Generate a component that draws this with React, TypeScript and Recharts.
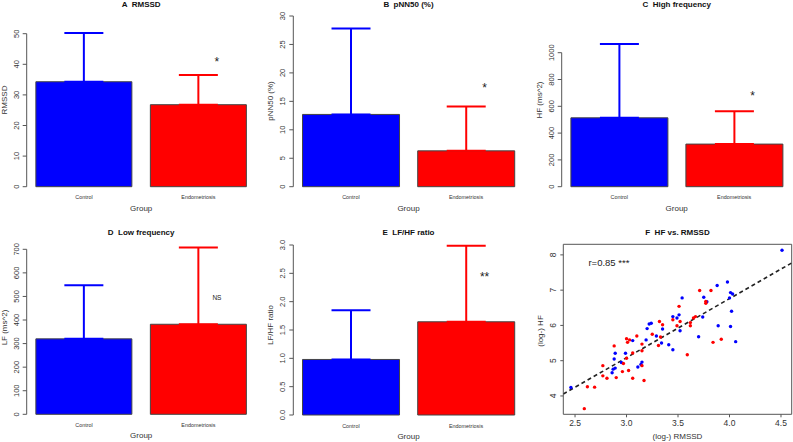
import React from 'react';
import {
  ComposedChart,
  ScatterChart,
  Bar,
  ErrorBar,
  Scatter,
  XAxis,
  YAxis,
  ReferenceDot,
  ReferenceLine,
  ReferenceArea,
} from 'recharts';

const FONT = '"Liberation Sans", Arial, Helvetica, sans-serif';
const BLUE = '#0000FF';
const RED = '#FF0000';
const AX = '#555555';
const TXT = '#333333';
const H = 221;

// groups and means / sd per panel
const groups = ['Control', 'Endometriosis'];

const rmssdMean = [34.3, 26.8];
const rmssdSd = [15.9, 9.7];
const rmssdTicks = [0, 10, 20, 30, 40, 50];

const pnn50Mean = [12.7, 6.3];
const pnn50Sd = [15.1, 7.8];
const pnn50Ticks = [0, 5, 10, 15, 20, 25, 30];

const hfMean = [514, 318];
const hfSd = [550, 245];
const hfTicks = [0, 200, 400, 600, 800, 1000];

const lfMean = [320, 382];
const lfSd = [227, 326];
const lfTicks = [0, 100, 200, 300, 400, 500, 600, 700];

const ratioMean = [0.98, 1.645];
const ratioSd = [0.87, 1.34];
const ratioTicks = [0, 0.5, 1, 1.5, 2, 2.5, 3];

// log HF vs log RMSSD
const controlX = [4.51, 2.46, 3.98, 3.88, 3.54, 3.75, 3.78, 4.01, 4.03, 4.0, 4.02, 3.74, 3.89, 4.01, 4.06, 3.7, 3.51, 3.45, 3.49, 3.52, 3.45, 3.41, 3.35, 3.34, 3.29, 3.24, 3.22, 3.2, 3.19, 3.06, 3.15, 3.14, 3.11, 2.99, 2.95, 2.89, 2.88, 2.89, 2.87, 2.86];
const controlY = [8.13, 4.24, 7.23, 7.13, 6.78, 6.8, 6.67, 6.93, 6.89, 6.78, 6.4, 6.24, 5.99, 5.97, 5.54, 5.68, 6.3, 6.25, 6.21, 5.85, 5.31, 5.45, 5.9, 5.5, 5.7, 6.06, 6.04, 5.91, 5.59, 5.57, 4.96, 4.89, 4.82, 5.21, 4.95, 5.21, 5.05, 4.79, 4.76, 4.66];
const endoX = [3.71, 3.82, 3.77, 3.77, 3.51, 3.45, 3.52, 3.62, 3.65, 3.67, 3.62, 3.49, 3.32, 3.35, 3.33, 3.31, 3.25, 3.59, 3.84, 3.92, 3.1, 3.03, 3.01, 3.0, 2.88, 3.15, 3.15, 3.06, 3.15, 3.0, 2.97, 2.77, 3.02, 2.96, 2.9, 2.81, 2.77, 3.06, 3.17, 2.62, 2.69, 2.59];
const endoY = [6.99, 6.99, 6.68, 6.63, 6.54, 6.16, 6.11, 6.08, 6.21, 6.25, 5.99, 5.99, 6.11, 6.02, 5.67, 5.43, 5.75, 5.17, 5.52, 5.61, 5.7, 5.59, 5.52, 5.62, 5.42, 5.47, 5.28, 5.22, 4.86, 5.07, 4.92, 4.86, 4.72, 4.69, 4.52, 4.5, 4.57, 4.5, 4.44, 4.26, 4.25, 3.64];
const fitIntercept = 0.06;
const fitSlope = 1.675;
const scatterXTicks = [2.5, 3, 3.5, 4, 4.5];
const scatterYTicks = [4, 5, 6, 7, 8];

interface BarPanelProps {
  left: number;
  top: number;
  width: number;
  title: string;
  titleY: number;
  yLabel: string;
  yLabelY: number;
  mean: number[];
  sd: number[];
  ticks: number[];
  decimals: number;
  mark: string;
  markY: number;
  markSize: number;
  markLift: number;
  plotLeft: number;
  plotRight: number;
  y0: number;
  ppu: number;
}

const BarPanel: React.FC<BarPanelProps> = (p) => {
  const data = groups.map((g, i) => ({
    group: g,
    ctrl: i === 0 ? p.mean[i] : null,
    endo: i === 1 ? p.mean[i] : null,
    ctrlErr: i === 0 ? [0, p.sd[i]] : null,
    endoErr: i === 1 ? [0, p.sd[i]] : null,
  }));
  const topTick = p.ticks[p.ticks.length - 1];
  const domMax = Math.max(topTick, ...p.mean.map((m, i) => m + p.sd[i]));
  const YW = 20;
  const XH = 20;
  const margin = {
    top: p.y0 - domMax * p.ppu,
    bottom: H - p.y0 - XH,
    left: p.plotLeft - YW,
    right: p.width - p.plotRight,
  };
  const cx = (p.plotLeft + p.plotRight) / 2;

  const yTick = (props: any) => {
    const { y, payload } = props;
    const ax = p.plotLeft;
    const lx = ax - 10.5;
    return (
      <g>
        <line x1={ax - 4} x2={ax} y1={y} y2={y} stroke={AX} />
        {payload.value === topTick && (
          <line x1={ax} x2={ax} y1={y} y2={y + topTick * p.ppu} stroke={AX} />
        )}
        <text
          x={lx}
          y={y}
          transform={`rotate(-90 ${lx} ${y})`}
          textAnchor='middle'
          dominantBaseline='central'
          fontSize={7.5}
          fontFamily={FONT}
          fill={TXT}
        >
          {payload.value.toFixed(p.decimals)}
        </text>
      </g>
    );
  };

  const xTick = (props: any) => (
    <text
      x={props.x}
      y={p.y0 + 10.5}
      textAnchor='middle'
      dominantBaseline='central'
      fontSize={5.4}
      fontFamily={FONT}
      fill={TXT}
    >
      {props.payload.value}
    </text>
  );

  return (
    <div style={{ position: 'absolute', left: p.left, top: p.top, width: p.width, height: H }}>
      <div
        style={{
          position: 'absolute',
          left: cx,
          top: p.titleY,
          transform: 'translate(-50%, -50%)',
          fontFamily: FONT,
          fontWeight: 'bold',
          fontSize: 8,
          lineHeight: 1,
          whiteSpace: 'pre',
          color: '#111',
        }}
      >
        {p.title}
      </div>
      <ComposedChart width={p.width} height={H} data={data} margin={margin} barCategoryGap='8%'>
        <XAxis
          dataKey='group'
          axisLine={false}
          tickLine={false}
          height={XH}
          interval={0}
          tick={xTick}
          label={() => (
            <text
              x={cx}
              y={p.y0 + 21.5}
              textAnchor='middle'
              dominantBaseline='central'
              fontSize={8}
              fontFamily={FONT}
              fill={TXT}
            >
              Group
            </text>
          )}
        />
        <YAxis
          type='number'
          domain={[0, domMax]}
          ticks={p.ticks}
          interval={0}
          width={YW}
          axisLine={false}
          tickLine={false}
          tick={yTick}
          label={() => (
            <text
              x={p.plotLeft - 22.5}
              y={p.yLabelY}
              transform={`rotate(-90 ${p.plotLeft - 22.5} ${p.yLabelY})`}
              textAnchor='middle'
              dominantBaseline='central'
              fontSize={8}
              fontFamily={FONT}
              fill={TXT}
            >
              {p.yLabel}
            </text>
          )}
        />
        <Bar dataKey='ctrl' stackId='g' fill={BLUE} stroke='#444' strokeWidth={1} isAnimationActive={false}>
          <ErrorBar dataKey='ctrlErr' direction='y' width={19.5} stroke={BLUE} strokeWidth={2} />
        </Bar>
        <Bar dataKey='endo' stackId='g' fill={RED} stroke='#444' strokeWidth={1} isAnimationActive={false}>
          <ErrorBar dataKey='endoErr' direction='y' width={19.5} stroke={RED} strokeWidth={2} />
        </Bar>
        <ReferenceDot
          x={groups[1]}
          y={p.markY}
          r={0}
          fill='none'
          stroke='none'
          ifOverflow='visible'
          label={(lp: any) => {
            const vb = lp.viewBox || {};
            const tx = (vb.x ?? 0) + (vb.width ?? 0) / 2 + 18.5;
            const ty = (vb.y ?? 0) + (vb.height ?? 0) / 2 + p.markLift * p.markSize;
            return (
              <text x={tx} y={ty} textAnchor='middle' fontSize={p.markSize} fontFamily={FONT} fill='#222'>
                {p.mark}
              </text>
            );
          }}
        />
      </ComposedChart>
    </div>
  );
};

const Dot = (color: string) => (props: any) => (
  <circle cx={props.cx} cy={props.cy} r={1.7} fill={color} />
);

const ScatterPanel: React.FC = () => {
  const W = 266;
  const plotLeft = 36.3;
  const plotRight = 264.7;
  const plotTop = 23.3;
  const plotBottom = 193.3;
  const xDom: [number, number] = [2.386, 4.604];
  const yDom: [number, number] = [3.48, 8.3];
  const YW = 20;
  const XH = 20;
  const ctrl = controlX.map((x, i) => ({ x, y: controlY[i] }));
  const endo = endoX.map((x, i) => ({ x, y: endoY[i] }));
  const fit = [
    { x: xDom[0], y: fitIntercept + fitSlope * xDom[0] },
    { x: xDom[1], y: fitIntercept + fitSlope * xDom[1] },
  ];
  const cx = (plotLeft + plotRight) / 2;

  const yTick = (props: any) => {
    const { y, payload } = props;
    const lx = plotLeft - 10.7;
    return (
      <text
        x={lx}
        y={y}
        transform={`rotate(-90 ${lx} ${y})`}
        textAnchor='middle'
        dominantBaseline='central'
        fontSize={8.5}
        fontFamily={FONT}
        fill={TXT}
      >
        {payload.value}
      </text>
    );
  };
  const xTick = (props: any) => (
    <text
      x={props.x}
      y={plotBottom + 8.6}
      textAnchor='middle'
      dominantBaseline='central'
      fontSize={8.5}
      fontFamily={FONT}
      fill={TXT}
    >
      {props.payload.value.toFixed(1)}
    </text>
  );

  return (
    <div style={{ position: 'absolute', left: 527, top: 221, width: W, height: H }}>
      <div
        style={{
          position: 'absolute',
          left: cx,
          top: 11.7,
          transform: 'translate(-50%, -50%)',
          fontFamily: FONT,
          fontWeight: 'bold',
          fontSize: 8,
          lineHeight: 1,
          whiteSpace: 'pre',
          color: '#111',
        }}
      >
        {'F  HF vs. RMSSD'}
      </div>
      <ScatterChart
        width={W}
        height={H}
        margin={{ top: plotTop, bottom: H - plotBottom - XH, left: plotLeft - YW, right: W - plotRight }}
      >
        <XAxis
          type='number'
          dataKey='x'
          domain={xDom}
          ticks={scatterXTicks}
          allowDataOverflow
          interval={0}
          height={XH}
          axisLine={false}
          tickLine={{ stroke: AX }}
          tickSize={3}
          tick={xTick}
          label={() => (
            <text
              x={cx}
              y={plotBottom + 22.5}
              textAnchor='middle'
              dominantBaseline='central'
              fontSize={8}
              fontFamily={FONT}
              fill={TXT}
            >
              (log-) RMSSD
            </text>
          )}
        />
        <YAxis
          type='number'
          dataKey='y'
          domain={yDom}
          ticks={scatterYTicks}
          allowDataOverflow
          interval={0}
          width={YW}
          axisLine={false}
          tickLine={{ stroke: AX }}
          tickSize={3}
          tick={yTick}
          label={() => (
            <text
              x={plotLeft - 23}
              y={110}
              transform={`rotate(-90 ${plotLeft - 23} 110)`}
              textAnchor='middle'
              dominantBaseline='central'
              fontSize={8}
              fontFamily={FONT}
              fill={TXT}
            >
              (log-) HF
            </text>
          )}
        />
        <ReferenceArea
          x1={xDom[0]}
          x2={xDom[1]}
          y1={yDom[0]}
          y2={yDom[1]}
          fill='none'
          fillOpacity={0}
          stroke={AX}
          strokeWidth={1}
          ifOverflow='visible'
        />
        <Scatter data={ctrl} fill={BLUE} shape={Dot(BLUE)} isAnimationActive={false} />
        <Scatter data={endo} fill={RED} shape={Dot(RED)} isAnimationActive={false} />
        <ReferenceLine
          segment={fit}
          stroke='#222'
          strokeWidth={1.6}
          strokeDasharray='4 3'
          ifOverflow='hidden'
        />
        <ReferenceDot
          x={2.63}
          y={7.79}
          r={0}
          fill='none'
          stroke='none'
          ifOverflow='visible'
          label={(lp: any) => {
            const vb = lp.viewBox || {};
            const tx = (vb.x ?? 0) + (vb.width ?? 0) / 2;
            const ty = (vb.y ?? 0) + (vb.height ?? 0) / 2;
            return (
              <text x={tx} y={ty} dominantBaseline='central' fontSize={9.5} fontFamily={FONT} fill='#222'>
                r=0.85 ***
              </text>
            );
          }}
        />
      </ScatterChart>
    </div>
  );
};

const App: React.FC = () => {
  return (
    <div style={{ position: 'absolute', left: 0, top: 0, width: 793, height: 442, background: '#fff' }}>
      <BarPanel
        left={0} top={0} width={262}
        title={'A  RMSSD'} titleY={5}
        yLabel='RMSSD' yLabelY={100}
        mean={rmssdMean} sd={rmssdSd} ticks={rmssdTicks} decimals={0}
        mark='*' markY={41.6} markSize={12} markLift={0.58}
        plotLeft={26.7} plotRight={255.7} y0={186.7} ppu={153 / 50}
      />
      <BarPanel
        left={262} top={0} width={265}
        title={'B  pNN50 (%)'} titleY={5}
        yLabel='pNN50 (%)' yLabelY={101}
        mean={pnn50Mean} sd={pnn50Sd} ticks={pnn50Ticks} decimals={0}
        mark='*' markY={17.9} markSize={12} markLift={0.58}
        plotLeft={31.3} plotRight={261.7} y0={186.7} ppu={170.7 / 30}
      />
      <BarPanel
        left={527} top={0} width={266}
        title={'C  High frequency'} titleY={5}
        yLabel='HF (ms^2)' yLabelY={100}
        mean={hfMean} sd={hfSd} ticks={hfTicks} decimals={0}
        mark='*' markY={697} markSize={12} markLift={0.58}
        plotLeft={34.7} plotRight={264.7} y0={186.7} ppu={134 / 1000}
      />
      <BarPanel
        left={0} top={221} width={262}
        title={'D  Low frequency'} titleY={11.7}
        yLabel='LF (ms^2)' yLabelY={106.5}
        mean={lfMean} sd={lfSd} ticks={lfTicks} decimals={0}
        mark='NS' markY={495} markSize={6.5} markLift={0.36}
        plotLeft={26.7} plotRight={255.7} y0={193.3} ppu={165 / 700}
      />
      <BarPanel
        left={262} top={221} width={265}
        title={'E  LF/HF ratio'} titleY={11.7}
        yLabel='LF/HF ratio' yLabelY={104}
        mean={ratioMean} sd={ratioSd} ticks={ratioTicks} decimals={1}
        mark='**' markY={2.49} markSize={12} markLift={0.58}
        plotLeft={31.3} plotRight={261.7} y0={194} ppu={170 / 3}
      />
      <ScatterPanel />
    </div>
  );
};

export default App;
